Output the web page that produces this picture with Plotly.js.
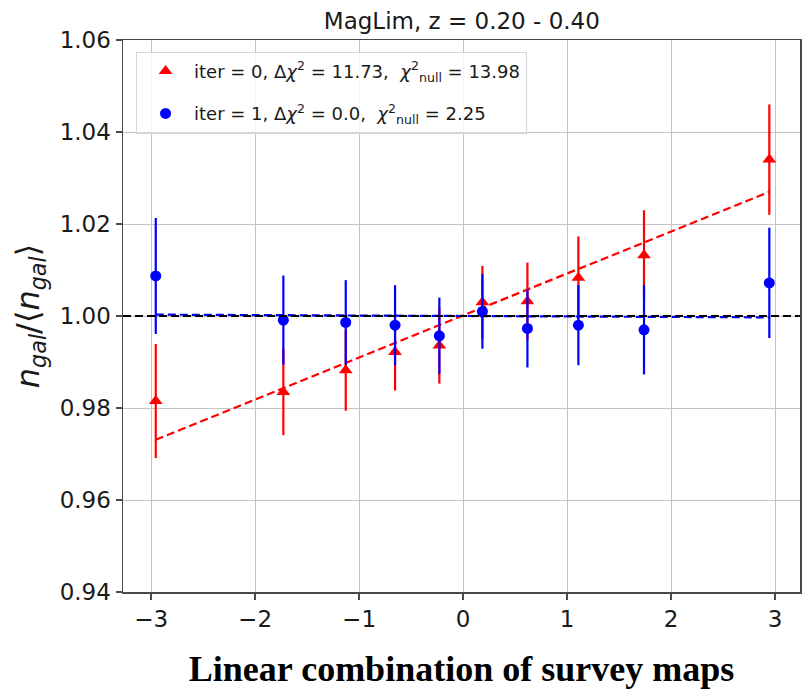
<!DOCTYPE html>
<html>
<head>
<meta charset="utf-8">
<script src="https://cdn.plot.ly/plotly-3.0.1.min.js"></script>
<style>
  html, body { margin: 0; padding: 0; background: #fff; }
  #chart { width: 806px; height: 692px; }
</style>
</head>
<body>
<div id="chart"></div>
<script>
// Binned galaxy density ratio against the linear combination of survey maps
const binCenters = [-2.955, -1.728, -1.128, -0.654, -0.228, 0.186, 0.619, 1.109, 1.740, 2.945];

// iter = 0 (before weighting)
const iter0Ratio = [0.9815, 0.9835, 0.9882, 0.9922, 0.9936, 1.0030, 1.0032, 1.0083, 1.0132, 1.0340];
const iter0Err   = [0.0124, 0.0094, 0.0088, 0.0084, 0.0083, 0.0079, 0.0084, 0.0090, 0.0098, 0.0120];

// iter = 1 (after weighting)
const iter1Ratio = [1.0087, 0.9991, 0.9986, 0.9980, 0.9957, 1.0010, 0.9973, 0.9980, 0.9970, 1.0072];
const iter1Err   = [0.0126, 0.0097, 0.0092, 0.0087, 0.0083, 0.0081, 0.0085, 0.0087, 0.0097, 0.0120];

// Linear fits evaluated at the outermost bins
const fitX    = [-2.955, 2.945];
const iter0Fit = [0.9731, 1.0270];
const iter1Fit = [1.0003, 0.9997];

const referenceLevel = 1.0;

const xTickVals = [-3, -2, -1, 0, 1, 2, 3];
const xTickText = ['\u22123', '\u22122', '\u22121', '0', '1', '2', '3'];
const yTickVals = [0.94, 0.96, 0.98, 1.00, 1.02, 1.04, 1.06];
const yTickText = ['0.94', '0.96', '0.98', '1.00', '1.02', '1.04', '1.06'];

const label0 = 'iter = 0, \u0394<i>\u03c7</i><sup>2</sup> = 11.73,  <i>\u03c7</i><sup>2</sup><sub>null</sub> = 13.98';
const label1 = 'iter = 1, \u0394<i>\u03c7</i><sup>2</sup> = 0.0,  <i>\u03c7</i><sup>2</sup><sub>null</sub> = 2.25';

const RED = '#ff0000';
const BLUE = '#0000ff';

const traces = [
  {
    x: binCenters, y: iter0Ratio, type: 'scatter', mode: 'markers',
    name: label0, legendgroup: 'g0',
    marker: { color: RED, symbol: 'triangle-up', size: 12 },
    error_y: { type: 'data', array: iter0Err, visible: true, color: RED, thickness: 2.2, width: 0 }
  },
  {
    x: fitX, y: iter0Fit, type: 'scatter', mode: 'lines', showlegend: false,
    line: { color: RED, width: 2.2, dash: '8px,4px' }, hoverinfo: 'skip'
  },
  {
    x: binCenters, y: iter1Ratio, type: 'scatter', mode: 'markers',
    name: label1, legendgroup: 'g1',
    marker: { color: BLUE, symbol: 'circle', size: 11 },
    error_y: { type: 'data', array: iter1Err, visible: true, color: BLUE, thickness: 2.2, width: 0 }
  },
  {
    x: fitX, y: iter1Fit, type: 'scatter', mode: 'lines', showlegend: false,
    line: { color: BLUE, width: 2.2, dash: '8px,4px' }, hoverinfo: 'skip'
  }
];

const axisCommon = {
  showgrid: true, gridcolor: '#c4c4c4', gridwidth: 1,
  zeroline: false,
  showline: true, mirror: true, linecolor: '#4a4a4a', linewidth: 1.5,
  ticks: 'outside', ticklen: 6, tickwidth: 1.2, tickcolor: '#4a4a4a',
  tickfont: { family: 'DejaVu Sans', size: 23, color: '#1a1a1a' }
};

const layout = {
  width: 806, height: 692,
  margin: { l: 123, r: 6, t: 40, b: 100 },
  paper_bgcolor: '#ffffff', plot_bgcolor: '#ffffff',
  showlegend: true,
  title: {
    text: 'MagLim, z = 0.20 - 0.40',
    font: { family: 'DejaVu Sans', size: 23, color: '#1a1a1a' },
    x: 0.573, xanchor: 'center', y: 0.982, yanchor: 'top'
  },
  xaxis: Object.assign({}, axisCommon, {
    range: [-3.27, 3.24],
    tickmode: 'array', tickvals: xTickVals, ticktext: xTickText,
    title: {
      text: '<b>Linear combination of survey maps</b>',
      font: { family: 'Liberation Serif', size: 36, color: '#000000' },
      standoff: 24
    }
  }),
  yaxis: Object.assign({}, axisCommon, {
    range: [0.94, 1.06],
    tickmode: 'array', tickvals: yTickVals, ticktext: yTickText,
    title: {
      text: '<i>n</i><sub><i>gal</i></sub>/\u27e8<i>n</i><sub><i>gal</i></sub>\u27e9',
      font: { family: 'DejaVu Sans', size: 32, color: '#1a1a1a' },
      standoff: 10
    }
  }),
  legend: {
    x: 0.019, y: 0.979, xanchor: 'left', yanchor: 'top',
    bgcolor: 'rgba(255,255,255,0.85)', bordercolor: '#d6d6d6', borderwidth: 1.2,
    font: { family: 'DejaVu Sans', size: 18, color: '#1a1a1a' },
    traceorder: 'grouped', tracegroupgap: 16, itemwidth: 47
  },
  shapes: [
    {
      type: 'line', xref: 'paper', x0: 0, x1: 1, yref: 'y', y0: referenceLevel, y1: referenceLevel,
      line: { color: '#000000', width: 2.2, dash: '8px,4px' }, layer: 'above'
    }
  ]
};

Plotly.newPlot('chart', traces, layout, { displayModeBar: false, staticPlot: true });
</script>
</body>
</html>
